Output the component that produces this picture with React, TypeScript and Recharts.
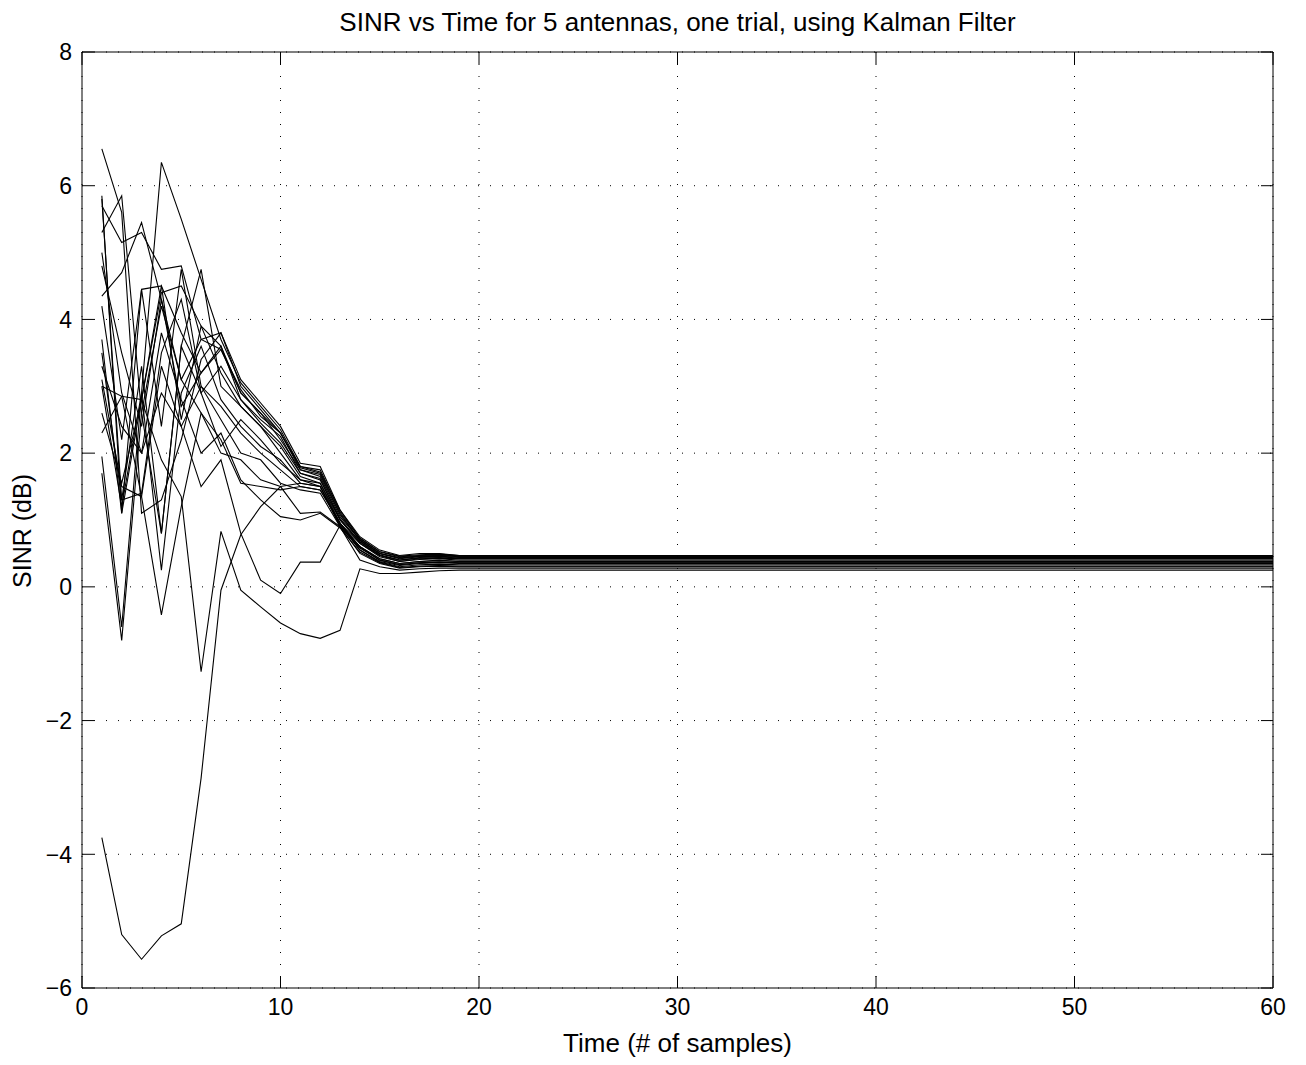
import React from "react";
import { LineChart, Line, XAxis, YAxis, CartesianGrid, ReferenceLine } from "recharts";

// sample index (points after t=20 are flat, so the last one is t=60)
const TIME = [1, 2, 3, 4, 5, 6, 7, 8, 9, 10, 11, 12, 13, 14, 15, 16, 17, 18, 19, 20, 60];

const S01 = [6.55, 5.6, 1.1, 1.3, 2.2, 3.4, 3.8, 3.1, 2.75, 2.4, 1.85, 1.8, 1.15, 0.75, 0.55, 0.47, 0.5, 0.5, 0.47, 0.47, 0.47];
const S02 = [3.0, 1.2, 2.9, 6.35, 5.5, 4.6, 3.7, 3.05, 2.7, 2.35, 1.8, 1.72, 1.15, 0.72, 0.52, 0.45, 0.47, 0.48, 0.46, 0.46, 0.46];
const S03 = [5.85, 1.1, 2.8, 4.5, 3.8, 3.2, 3.6, 2.9, 2.6, 2.2, 1.75, 1.65, 1.05, 0.7, 0.5, 0.42, 0.45, 0.46, 0.44, 0.44, 0.44];
const S04 = [5.8, 1.3, 1.4, 3.5, 4.3, 2.9, 3.3, 2.8, 2.5, 2.25, 1.7, 1.6, 1.0, 0.68, 0.48, 0.4, 0.44, 0.45, 0.43, 0.43, 0.43];
const S05 = [5.3, 5.85, 2.6, 0.8, 3.6, 4.75, 3.0, 2.7, 2.4, 2.1, 1.65, 1.55, 0.95, 0.65, 0.45, 0.38, 0.42, 0.43, 0.42, 0.42, 0.42];
const S06 = [5.7, 5.15, 5.3, 4.75, 4.8, 3.7, 3.55, 2.95, 2.55, 2.3, 1.78, 1.7, 1.1, 0.7, 0.5, 0.43, 0.46, 0.47, 0.46, 0.46, 0.46];
const S07 = [4.35, 4.7, 5.45, 4.3, 3.1, 3.7, 3.8, 3.0, 2.65, 2.3, 1.8, 1.75, 1.12, 0.73, 0.53, 0.46, 0.48, 0.49, 0.47, 0.47, 0.47];
const S08 = [2.3, 2.85, 2.8, 4.4, 4.5, 3.9, 3.2, 2.7, 2.4, 2.0, 1.6, 1.55, 1.0, 0.65, 0.47, 0.38, 0.41, 0.42, 0.4, 0.4, 0.4];
const S09 = [3.7, 1.1, 4.45, 4.5, 2.5, 3.9, 3.6, 2.8, 2.45, 2.15, 1.7, 1.62, 1.02, 0.67, 0.47, 0.4, 0.43, 0.44, 0.42, 0.42, 0.42];
const S10 = [3.5, 1.3, 3.3, 0.8, 3.6, 2.9, 2.1, 2.5, 2.2, 1.85, 1.6, 1.5, 0.95, 0.6, 0.42, 0.35, 0.38, 0.4, 0.38, 0.38, 0.38];
const S11 = [3.1, 1.5, 1.35, 3.3, 2.4, 3.0, 2.5, 2.0, 1.9, 1.55, 1.45, 1.4, 0.9, 0.58, 0.4, 0.33, 0.36, 0.37, 0.36, 0.36, 0.36];
const S12 = [3.0, 2.85, 1.35, -0.42, 1.2, 2.6, 2.2, 1.55, 1.5, 1.45, 1.5, 1.45, 0.95, 0.55, 0.38, 0.32, 0.35, 0.36, 0.35, 0.35, 0.35];
const S13 = [1.95, -0.6, 2.9, 0.25, 2.9, 3.6, 2.8, 2.4, 2.1, 1.9, 1.55, 1.5, 0.92, 0.55, 0.37, 0.3, 0.33, 0.34, 0.33, 0.33, 0.33];
const S14 = [1.7, -0.8, 2.6, 4.2, 3.1, 2.6, 2.0, 1.9, 1.6, 1.5, 1.1, 1.12, 0.9, 0.5, 0.35, 0.28, 0.3, 0.31, 0.3, 0.3, 0.3];
const S15 = [2.6, 1.55, 2.8, 1.9, 1.35, -1.27, 0.83, -0.05, -0.3, -0.54, -0.7, -0.77, -0.65, 0.27, 0.2, 0.2, 0.22, 0.24, 0.25, 0.25, 0.25];
const S16 = [-3.75, -5.2, -5.57, -5.22, -5.04, -2.86, -0.05, 0.78, 1.2, 1.5, 1.55, 1.5, 0.9, 0.4, 0.3, 0.25, 0.27, 0.28, 0.28, 0.28, 0.28];
const S17 = [3.3, 2.4, 2.0, 2.9, 2.4, 1.5, 1.9, 0.8, 0.1, -0.1, 0.37, 0.37, 0.92, 0.6, 0.4, 0.33, 0.36, 0.37, 0.36, 0.36, 0.36];
const S18 = [4.8, 3.5, 2.4, 4.3, 2.7, 3.2, 3.55, 2.9, 2.6, 2.3, 1.75, 1.68, 1.08, 0.7, 0.5, 0.44, 0.46, 0.47, 0.45, 0.45, 0.45];
const S19 = [4.2, 2.2, 4.45, 2.4, 4.75, 3.0, 2.7, 2.3, 2.0, 1.75, 1.5, 1.45, 0.95, 0.6, 0.42, 0.35, 0.38, 0.39, 0.38, 0.38, 0.38];
const S20 = [5.0, 2.9, 2.0, 3.8, 2.8, 2.0, 2.3, 1.6, 1.3, 1.05, 1.0, 1.1, 0.88, 0.52, 0.36, 0.29, 0.31, 0.32, 0.31, 0.31, 0.31];

const SERIES = [S01, S02, S03, S04, S05, S06, S07, S08, S09, S10, S11, S12, S13, S14, S15, S16, S17, S18, S19, S20];

const X_TICKS = [0, 10, 20, 30, 40, 50, 60];
const Y_TICKS = [-6, -4, -2, 0, 2, 4, 6, 8];

const TITLE = "SINR vs Time for 5 antennas, one trial, using Kalman Filter";
const X_LABEL = "Time (# of samples)";
const Y_LABEL = "SINR (dB)";

const data = TIME.map((t, i) => {
  const row: Record<string, number> = { t };
  SERIES.forEach((s, k) => {
    row["s" + k] = s[i];
  });
  return row;
});

const FONT = "'Liberation Sans', Arial, Helvetica, sans-serif";
const fmt = (v: number) => String(v).replace("-", "\u2212");

const W = 1306;
const H = 1065;
const M_TOP = 52;
const M_RIGHT = 33;
const Y_AXIS_W = 82;
const X_AXIS_H = 77;
const PLOT_W = W - Y_AXIS_W - M_RIGHT;
const PLOT_H = H - M_TOP - X_AXIS_H;

const TICK_LEN = 12;
const GAP = 10; // label distance from the axis line

// matlab style ticks: short marks pointing into the box, on all four sides
const BottomTick = (p: any) => {
  const yb = p.y - GAP;
  const yt = yb - PLOT_H;
  return (
    <g>
      <line x1={p.x} x2={p.x} y1={yb} y2={yb - TICK_LEN} stroke="#000" />
      <line x1={p.x} x2={p.x} y1={yt} y2={yt + TICK_LEN} stroke="#000" />
      <text x={p.x} y={p.y} dy="0.75em" textAnchor="middle" fontSize={23} fontFamily={FONT} fill="#000">
        {fmt(p.payload.value)}
      </text>
    </g>
  );
};

const LeftTick = (p: any) => {
  const xl = p.x + GAP;
  const xr = xl + PLOT_W;
  return (
    <g>
      <line x1={xl} x2={xl + TICK_LEN} y1={p.y} y2={p.y} stroke="#000" />
      <line x1={xr} x2={xr - TICK_LEN} y1={p.y} y2={p.y} stroke="#000" />
      <text x={p.x} y={p.y} dy="0.36em" textAnchor="end" fontSize={23} fontFamily={FONT} fill="#000">
        {fmt(p.payload.value)}
      </text>
    </g>
  );
};

const App = () => {
  return (
    <div style={{ position: "absolute", left: 0, top: 0, width: W, height: H, background: "#fff", fontFamily: FONT }}>
      <div style={{ position: "absolute", left: Y_AXIS_W, width: PLOT_W, top: 7, textAlign: "center", fontSize: 26, lineHeight: "30px", color: "#000" }}>
        {TITLE}
      </div>
      <div style={{ position: "absolute", left: Y_AXIS_W, width: PLOT_W, top: 1028, textAlign: "center", fontSize: 26, lineHeight: "30px", color: "#000" }}>
        {X_LABEL}
      </div>
      <div
        style={{
          position: "absolute",
          left: 22,
          top: 531,
          transform: "translate(-50%, -50%) rotate(-90deg)",
          whiteSpace: "nowrap",
          fontSize: 25,
          lineHeight: "30px",
          color: "#000",
        }}
      >
        {Y_LABEL}
      </div>
      <LineChart
        width={W}
        height={H}
        data={data}
        margin={{ top: M_TOP, right: M_RIGHT, left: 0, bottom: 0 }}
        style={{ position: "absolute", left: 0, top: 0 }}
      >
        <CartesianGrid stroke="#000" strokeDasharray="1 11" />
        <XAxis
          dataKey="t"
          type="number"
          domain={[0, 60]}
          ticks={X_TICKS}
          height={X_AXIS_H}
          stroke="#000"
          tickLine={false}
          tickSize={0}
          tickMargin={GAP}
          tick={<BottomTick />}
          interval={0}
        />
        <YAxis
          type="number"
          domain={[-6, 8]}
          ticks={Y_TICKS}
          width={Y_AXIS_W}
          stroke="#000"
          tickLine={false}
          tickSize={0}
          tickMargin={GAP}
          tick={<LeftTick />}
          interval={0}
        />
        {/* top and right edges of the box */}
        <ReferenceLine y={8} stroke="#000" strokeWidth={1} />
        <ReferenceLine x={60} stroke="#000" strokeWidth={1} />
        {SERIES.map((_, k) => (
          <Line
            key={k}
            dataKey={"s" + k}
            type="linear"
            stroke="#000"
            strokeWidth={1.1}
            dot={false}
            isAnimationActive={false}
          />
        ))}
      </LineChart>
    </div>
  );
};

export default App;
